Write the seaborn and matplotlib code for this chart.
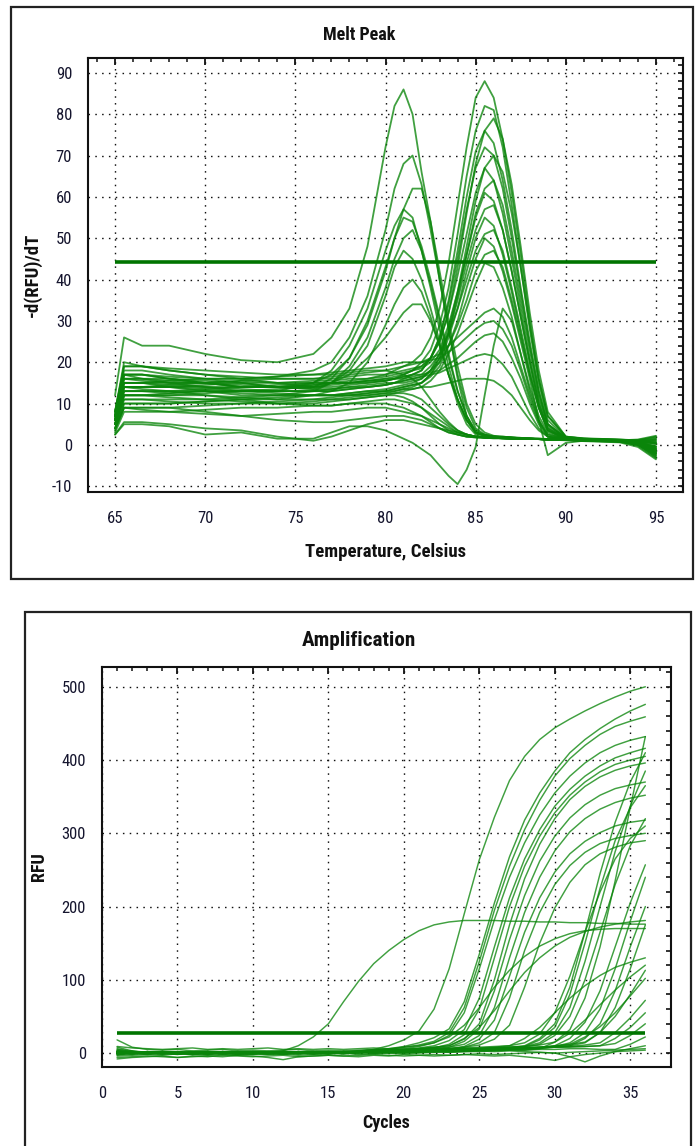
import numpy as np
import pandas as pd
import matplotlib
matplotlib.use("Agg")
import matplotlib.pyplot as plt
from matplotlib.ticker import MultipleLocator
from matplotlib.patches import Rectangle
import seaborn as sns

# ─────────────────────────────────────────────
# DATA
# ─────────────────────────────────────────────
MELT_THRESHOLD = 44.2
AMP_THRESHOLD = 28

melt_temps = [65, 65.5, 66.5, 68, 70, 72, 74, 76, 77, 78, 79, 80, 80.5, 81, 81.5, 82,
              82.5, 83, 83.5, 84, 84.5, 85, 85.5, 86, 86.5, 87, 87.5, 88, 88.5, 89,
              90, 91, 93, 94, 95]

# products melting near 81 C
melt_early = [
    [12, 26, 24, 24, 22, 20.5, 20, 22, 26, 33, 48, 72, 82, 86, 80, 66, 54, 40, 28, 16, 7, 3, 2.5, 2, 2, 1.8, 1.6, 1.5, 1.4, 1.3, 1.2, 1.0, 0.8, 0.2, -2.5],
    [8, 20, 19, 18, 17, 16, 16.5, 18, 20, 26, 36, 52, 62, 68, 70, 63, 52, 40, 28, 17, 9, 4, 2.5, 2, 1.8, 1.7, 1.6, 1.5, 1.5, 1.4, 1.3, 1.2, 1.0, 0.6, -1.0],
    [7, 17, 17, 16, 15, 14, 14, 15, 17, 21, 29, 42, 50, 57, 62, 62, 54, 42, 30, 19, 10, 5, 3, 2.2, 2, 1.8, 1.7, 1.6, 1.5, 1.4, 1.3, 1.1, 0.9, 0.4, -2.0],
    [6, 15, 15, 14.5, 14, 13, 13, 15, 18, 24, 33, 47, 53, 57, 55, 47, 38, 28, 19, 11, 6, 3, 2.2, 2, 1.9, 1.8, 1.6, 1.5, 1.4, 1.3, 1.4, 1.3, 1.1, 0.8, 0.5],
    [7, 16, 16, 15, 15, 15.5, 15, 14, 16, 21, 30, 43, 50, 55, 54, 48, 40, 31, 22, 13, 7, 3, 2.3, 2, 1.9, 1.7, 1.6, 1.5, 1.4, 1.3, 1.1, 0.9, 0.6, -0.5, -3.5],
    [5, 13, 13, 12.5, 13, 12, 12, 13, 15, 19, 26, 38, 45, 50, 52, 47, 39, 30, 21, 13, 7, 3.5, 2.4, 2, 1.8, 1.7, 1.6, 1.5, 1.4, 1.3, 1.2, 1.1, 1.0, 1.2, 1.8],
    [6, 14, 14, 14, 14.5, 15, 14, 13.5, 15, 18, 24, 36, 43, 47, 45, 40, 33, 25, 17, 10, 5, 2.5, 2, 1.8, 1.7, 1.6, 1.5, 1.5, 1.4, 1.3, 1.2, 1.0, 0.7, 0, -2.8],
    [5, 12, 12, 12, 12, 11.5, 11, 12, 13, 15, 20, 29, 34, 38, 40, 37, 31, 24, 17, 11, 6, 3, 2.2, 2, 1.8, 1.7, 1.6, 1.5, 1.4, 1.3, 1.2, 1.0, 0.9, 0.5, -1.5],
    [6, 15, 15, 15.5, 16, 15, 14, 14, 15, 17, 21, 26, 29, 32, 34, 34, 30, 24, 17, 11, 6, 3, 2.3, 2, 1.9, 1.8, 1.7, 1.6, 1.5, 1.4, 1.3, 1.2, 1.0, 0.7, 0.2],
]

# main product melting near 85.5 C
melt_main = [
    [7, 17, 17, 16, 15, 14, 14, 14.5, 15, 15.5, 16, 17, 18, 19, 20, 22, 26, 33, 44, 58, 72, 84, 88, 84, 74, 61, 46, 30, 16, 7, 2, 1.5, 1.2, 0.5, -1.0],
    [6, 14, 14, 14, 13, 13, 13.5, 14, 14, 14.5, 15, 15.5, 16, 17, 18, 20, 23, 29, 38, 51, 65, 76, 82, 81, 72, 58, 43, 28, 15, 6, 1.8, 1.4, 1.1, 0.3, -2.0],
    [8, 18, 18, 17, 16, 16, 15, 15, 15, 15, 15.5, 16, 16.5, 17, 18, 19, 21, 25, 32, 43, 56, 68, 76, 79, 74, 63, 48, 32, 18, 8, 2, 1.6, 1.3, 1.0, 1.5],
    [5, 12, 12, 12, 12.5, 13, 13, 13, 13, 13.5, 14, 14.5, 15, 16, 17, 18, 21, 26, 35, 47, 60, 71, 76, 73, 64, 52, 38, 25, 13, 5, 1.5, 1.2, 1.0, 0.2, -3.0],
    [7, 16, 16, 15.5, 15, 14, 14, 14, 14.5, 15, 15, 15.5, 16, 16.5, 17, 18, 21, 26, 34, 45, 57, 67, 72, 70, 62, 50, 37, 24, 13, 5, 1.7, 1.4, 1.2, 0.8, 0.3],
    [6, 13, 13, 13, 13, 12.5, 12, 12, 12, 12.5, 13, 13.5, 14, 14.5, 15, 16, 18, 22, 28, 37, 48, 59, 67, 70, 66, 56, 43, 29, 16, 7, 2, 1.5, 1.1, 0.4, -1.8],
    [8, 19, 19, 18, 17, 16.5, 16, 16, 16, 16.5, 17, 17, 17.5, 18, 18.5, 19, 21, 25, 32, 41, 51, 61, 67, 64, 56, 45, 33, 21, 11, 4.5, 1.6, 1.3, 1.0, 0.6, -0.5],
    [5, 11, 11, 11, 11, 11.5, 12, 12, 12, 12, 12.5, 13, 13.5, 14, 14.5, 15, 17, 21, 27, 36, 46, 56, 62, 64, 58, 47, 35, 23, 12, 5, 1.8, 1.5, 1.3, 1.1, 2.0],
    [7, 17, 16, 16, 15.5, 15, 15, 15.5, 15.5, 16, 16, 16.5, 17, 17.5, 18, 18.5, 20, 23, 29, 37, 46, 55, 61, 59, 52, 42, 31, 20, 10, 4, 1.5, 1.3, 1.0, 0, -2.2],
    [6, 14, 14, 14.5, 15, 14.5, 14, 13.5, 13.5, 14, 14, 14.5, 15, 15, 15.5, 16, 18, 21, 27, 35, 44, 52, 57, 58, 52, 42, 31, 20, 10, 4, 1.6, 1.3, 1.1, 0.7, -0.8],
    [4, 10, 10, 10, 10.5, 11, 11, 11, 11.5, 12, 12, 12.5, 13, 13.5, 14, 15, 17, 20, 26, 33, 42, 50, 55, 53, 46, 37, 27, 17, 9, 3.5, 1.5, 1.3, 1.2, 0.9, 0.8],
    [7, 16, 15.5, 15, 14, 14, 14.5, 15, 15, 15, 15.5, 15.5, 16, 16, 16.5, 17, 19, 22, 27, 33, 40, 47, 51, 52, 47, 38, 28, 18, 9, 3.5, 1.4, 1.2, 0.9, -0.2, -3.2],
    [5, 12, 12, 12.5, 13, 13, 12.5, 12, 12, 12.5, 13, 13, 13.5, 14, 14.5, 15, 16.5, 19, 24, 30, 38, 45, 50, 48, 42, 34, 25, 16, 6, -2.5, 0.5, 1.0, 0.9, 0.3, -1.2],
    [6, 15, 15, 14, 14, 13.5, 13, 13, 13.5, 14, 14.5, 15, 15, 15.5, 16, 16.5, 18, 20, 24, 29, 35, 42, 46, 47, 43, 35, 26, 17, 9, 3.5, 1.6, 1.4, 1.2, 1.0, 1.2],
    [4, 9, 9, 9, 9.5, 10, 10, 10.5, 11, 11, 11.5, 12, 12.5, 13, 13.5, 14, 15.5, 18, 22, 27, 33, 39, 44, 43, 38, 31, 22, 14, 7, 3, 1.5, 1.3, 1.1, 0.6, -0.6],
]

# weak peaks around 86 C (first one dips below zero)
melt_low = [
    [2.5, 5, 5, 4.5, 2.5, 3, 1.5, 1.5, 3, 4.5, 4.5, 3.5, 2.5, 1.5, 0.5, -1, -2.5, -5, -7.5, -9.5, -6, -0.5, 12, 24, 33, 30, 22, 13, 6, 2, 1.2, 1.0, 0.8, 0, -1.0],
    [6, 15, 15, 15, 15, 15.5, 16, 16, 16.5, 17, 17.5, 18, 18.5, 19, 19.5, 20, 21, 22, 24, 26, 28, 30, 32, 33, 31, 26, 19, 12, 6, 2.5, 1.5, 1.3, 1.1, 0.5, -1.5],
    [7, 17, 17, 16.5, 16, 16, 16.5, 17, 17.5, 18, 18.5, 19, 19.5, 20, 20, 20, 20.5, 21, 22.5, 24, 26, 28, 29.5, 30, 28, 24, 18, 11, 5.5, 2.5, 1.6, 1.4, 1.2, 1.0, 0.4],
    [5, 13, 13, 13, 13.5, 14, 14, 14.5, 15, 15, 15.5, 16, 16, 16.5, 17, 17, 17.5, 18, 19.5, 21, 23, 25, 26.5, 27, 25, 21, 16, 10, 5, 2, 1.4, 1.2, 1.0, 0.4, -2.0],
    [6, 14, 14, 14, 13.5, 13, 13, 13, 13, 13.5, 14, 14.5, 15, 15.5, 16, 16.5, 17, 17.5, 18.5, 19.5, 20.5, 21.5, 22, 21.5, 19.5, 16.5, 12, 7.5, 4, 2, 1.5, 1.3, 1.1, 0.7, -0.3],
    [4, 10, 10, 10, 10.5, 11, 11.5, 12, 12, 12, 12.5, 13, 13, 13.5, 13.5, 14, 14, 14.5, 15, 15.5, 16, 16, 16, 15.5, 14, 12, 9, 6, 3.5, 2, 1.4, 1.2, 1.0, 0.8, 1.0],
]

# no clear peak
melt_flat = [
    [3, 8, 8, 8, 8.5, 9, 9, 9.5, 9.5, 10, 10, 10, 9.5, 9, 8, 7, 5.5, 4, 3, 2.5, 2, 1.8, 1.7, 1.6, 1.6, 1.5, 1.5, 1.5, 1.4, 1.4, 1.3, 1.2, 1.0, 0.5, -1.2],
    [3.5, 9, 8.5, 8, 7.5, 7, 7.5, 8, 8, 8.5, 9, 9, 8.5, 8, 7.5, 7, 6, 5, 4, 3, 2.5, 2, 1.8, 1.7, 1.6, 1.5, 1.5, 1.4, 1.4, 1.3, 1.3, 1.2, 1.1, 0.9, 0.6],
    [2.5, 5.5, 5.5, 5, 4, 3.5, 2, 1, 2, 3.5, 5, 6, 6, 6, 5.5, 5, 4.5, 4, 3.5, 3, 2.5, 2, 1.8, 1.7, 1.6, 1.5, 1.5, 1.4, 1.4, 1.3, 1.2, 1.1, 0.9, 0.2, -2.5],
    [5, 12, 12, 11.5, 11, 10.5, 10, 10, 10.5, 11, 11.5, 12, 12, 11.5, 10.5, 9, 7, 5, 3.5, 2.5, 2, 1.8, 1.7, 1.6, 1.6, 1.5, 1.5, 1.4, 1.4, 1.3, 1.3, 1.2, 1.0, 0.6, -0.4],
    [4, 9, 9, 9, 8, 7, 6, 5.5, 5.5, 6, 6.5, 7, 7, 7, 6.5, 6, 5, 4, 3, 2.5, 2, 2, 1.8, 1.7, 1.6, 1.6, 1.5, 1.5, 1.4, 1.4, 1.3, 1.2, 1.1, 1.3, 2.2],
    [8, 19, 19, 18.5, 18, 17.5, 17, 17, 17, 17.5, 18, 18, 17.5, 17, 16, 14, 11, 8, 5.5, 3.5, 2.5, 2, 1.8, 1.7, 1.6, 1.5, 1.5, 1.4, 1.4, 1.3, 1.3, 1.2, 1.0, 0.4, -1.8],
    [5, 11, 11, 10.5, 10, 10, 10.5, 11, 11, 11.5, 12, 12.5, 12.5, 12.5, 12, 11, 9, 7, 5, 3.5, 2.5, 2, 1.8, 1.7, 1.6, 1.5, 1.5, 1.4, 1.4, 1.3, 1.2, 1.1, 0.9, 0.8, 1.4],
    [6, 14, 13.5, 13, 12, 11, 10, 9.5, 9.5, 10, 10.5, 11, 11, 10.5, 10, 9, 7.5, 6, 4.5, 3, 2.5, 2, 1.8, 1.7, 1.6, 1.5, 1.5, 1.4, 1.4, 1.3, 1.3, 1.2, 1.0, 0.2, -2.2],
]

cycles = list(range(1, 37))

# early sample, plateau ~180
amp_early = [
    [5, 2, 0, -1, 1, 0, -2, 1, 0, -1, 1, 3, 10, 22, 40, 70, 98, 122, 140, 155, 167, 175, 179, 181, 181, 181, 180, 180, 179, 179, 178, 178, 177, 177, 176, 176],
]

# Cq ~21-27, high plateaus
amp_mid = [
    [2, -1, 1, 0, -2, 1, 2, 0, -1, 1, 0, -2, 1, 0, 2, 1, 2, 5, 10, 18, 30, 60, 115, 190, 264, 322, 372, 405, 428, 444, 456, 467, 477, 486, 494, 500],
    [-3, 0, 2, 1, -1, 0, 1, -2, 0, 1, 2, 0, -1, 1, 0, 2, 3, 4, 6, 9, 14, 21, 33, 70, 135, 205, 268, 318, 355, 385, 410, 428, 443, 456, 467, 476],
    [1, 3, 0, -1, 2, 1, -1, 0, 2, 0, -1, 1, 0, 1, 2, 1, 3, 4, 5, 8, 11, 16, 28, 62, 125, 195, 255, 305, 345, 378, 402, 420, 435, 446, 453, 459],
    [0, -2, 1, 2, 0, -1, 1, 2, 0, -1, 1, 0, 2, 1, 0, 2, 2, 3, 5, 6, 9, 14, 24, 55, 115, 182, 240, 287, 325, 355, 378, 396, 410, 420, 427, 432],
    [8, 3, 1, 0, -1, 2, 0, 1, -1, 0, 2, 1, 0, -1, 1, 2, 1, 3, 4, 5, 7, 10, 17, 32, 75, 145, 212, 265, 305, 337, 360, 378, 392, 403, 410, 416],
    [-2, 1, 0, 2, 1, -1, 0, 1, 2, 0, -1, 0, 1, 2, 0, 1, 2, 2, 3, 4, 5, 7, 12, 25, 60, 130, 200, 255, 296, 328, 352, 370, 384, 394, 400, 405],
    [3, 0, 1, -1, 0, 2, 1, 0, -2, 1, 0, 2, 1, 0, 1, 2, 1, 2, 3, 4, 6, 8, 10, 19, 40, 100, 175, 238, 285, 320, 346, 364, 377, 386, 392, 396],
    [1, -1, 2, 0, 1, -2, 0, 1, 0, 2, 1, -1, 0, 2, 1, 0, 2, 3, 3, 5, 6, 7, 8, 16, 33, 85, 155, 215, 262, 296, 321, 339, 352, 361, 366, 370],
    [-1, 2, 0, 1, 0, -1, 2, 1, 0, -1, 1, 0, 2, 0, 1, 2, 1, 2, 3, 4, 5, 6, 8, 12, 24, 62, 130, 192, 240, 276, 302, 320, 333, 342, 348, 352],
    [2, 0, -1, 1, 2, 0, -1, 0, 1, 2, 0, 1, -1, 0, 2, 1, 1, 2, 2, 3, 4, 5, 6, 9, 19, 45, 105, 165, 212, 247, 272, 289, 301, 310, 315, 318],
    [0, 1, 2, 0, -1, 1, 0, 2, -1, 0, 1, 2, 0, 1, -1, 0, 2, 1, 2, 3, 3, 4, 6, 8, 14, 28, 75, 140, 192, 230, 256, 274, 286, 293, 297, 300],
    [6, 2, 0, 1, -1, 0, 2, 1, 0, -2, 0, 1, 2, 0, 1, -1, 1, 2, 2, 3, 4, 5, 6, 8, 11, 19, 38, 90, 150, 198, 233, 257, 272, 281, 287, 290],
]

# slow risers with low plateaus
amp_slow = [
    [1, 0, -1, 2, 0, 1, -1, 0, 2, 1, 0, -1, 1, 2, 0, 1, 3, 4, 6, 8, 10, 14, 22, 38, 62, 90, 113, 132, 146, 156, 163, 167, 169, 170, 170, 170],
    [-2, 0, 1, 0, 2, -1, 1, 0, 0, 2, 1, 0, -1, 1, 2, 0, 1, 2, 3, 4, 6, 8, 10, 20, 35, 58, 85, 110, 130, 146, 158, 166, 172, 176, 179, 181],
    [1, 2, 0, -1, 1, 0, 2, 1, -1, 0, 1, 0, 2, 1, 0, -1, 1, 2, 1, 3, 4, 5, 6, 7, 8, 9, 10, 20, 35, 55, 75, 92, 106, 117, 124, 130],
]

# late samples, Cq ~29-35
amp_late = [
    [0, 2, 1, -1, 0, 1, 2, 0, -1, 1, 0, 2, 1, -1, 0, 1, 2, 0, 1, 2, 1, 2, 3, 3, 4, 4, 5, 5, 6, 15, 32, 75, 145, 235, 335, 432],
    [3, 1, 0, 2, -1, 0, 1, 2, 0, 1, -1, 0, 2, 1, 0, 1, 2, 1, 2, 3, 3, 4, 5, 5, 6, 7, 8, 10, 20, 40, 90, 165, 245, 315, 370, 410],
    [-1, 0, 2, 1, 0, -2, 1, 0, 2, 1, 0, -1, 1, 2, 0, 1, 0, 2, 1, 2, 3, 2, 4, 4, 5, 6, 7, 9, 14, 28, 62, 125, 200, 275, 337, 385],
    [2, 0, 1, 2, 0, 1, -1, 0, 1, 2, 0, 1, -1, 0, 2, 1, 2, 1, 3, 2, 3, 4, 4, 5, 6, 7, 8, 9, 18, 35, 80, 150, 225, 290, 335, 365],
    [0, -1, 1, 0, 2, 1, 0, -1, 1, 0, 2, 1, 0, 1, -1, 2, 1, 0, 2, 3, 2, 3, 4, 5, 5, 6, 7, 8, 12, 24, 50, 100, 165, 230, 283, 320],
    [4, 1, 0, 1, -1, 2, 0, 1, 0, -1, 1, 2, 0, 1, 0, 2, 1, 2, 3, 3, 4, 4, 5, 6, 7, 8, 10, 14, 26, 55, 105, 165, 220, 265, 293, 310],
    [1, 0, -1, 2, 0, 1, 0, 2, -1, 0, 1, 0, 2, 1, 0, -1, 1, 2, 0, 1, 2, 3, 2, 3, 4, 4, 5, 6, 7, 10, 20, 42, 85, 145, 205, 257],
    [-4, -3, -2, -3, -1, -2, -3, -2, -3, -1, -2, -1, -3, -2, -1, 0, -2, -1, 0, -1, 0, 1, 1, 2, 2, 3, 4, 4, 6, 9, 14, 28, 60, 115, 180, 240],
    [0, 2, 1, 0, -1, 1, 0, 2, 1, 0, -1, 1, 0, 2, 1, 0, 1, 2, 1, 2, 2, 3, 3, 4, 5, 5, 6, 7, 8, 9, 10, 20, 40, 85, 145, 200],
    [2, 0, 1, -1, 0, 1, 2, 0, 1, -1, 0, 2, 1, 0, 1, 0, 2, 1, 1, 2, 3, 2, 3, 3, 4, 5, 5, 6, 7, 8, 10, 14, 28, 62, 115, 175],
    [1, -1, 0, 2, 1, 0, -1, 1, 0, 2, 1, 0, 1, -1, 0, 2, 1, 2, 1, 3, 3, 4, 4, 5, 6, 7, 8, 9, 11, 15, 27, 45, 66, 86, 104, 120],
    [0, 1, 2, 0, 1, -1, 0, 2, 1, 0, 1, -1, 0, 1, 2, 0, 1, 1, 2, 2, 3, 3, 4, 4, 5, 5, 6, 7, 8, 10, 12, 15, 28, 50, 80, 113],
    [3, 1, 0, -1, 1, 0, 2, 0, -1, 1, 0, 2, 1, 0, -1, 1, 2, 0, 2, 1, 3, 2, 3, 4, 4, 5, 6, 7, 8, 9, 12, 22, 36, 55, 78, 102],
    [-1, 0, 1, 2, 0, 1, -1, 0, 2, 1, 0, 1, 0, -1, 1, 2, 0, 1, 2, 2, 1, 3, 3, 4, 4, 5, 5, 6, 7, 8, 9, 11, 14, 28, 48, 72],
    [18, 8, 5, 4, 5, 3, 4, 5, 3, 4, 3, 4, 5, 3, 4, 3, 4, 5, 4, 4, 5, 5, 5, 6, 6, 6, 7, 7, 8, 8, 9, 9, 10, 20, 35, 55],
    [9, 7, 6, 5, 6, 7, 5, 6, 5, 6, 7, 5, 6, 5, 6, 5, 6, 7, 6, 5, 6, 6, 5, 6, 6, 7, 6, 7, 7, 8, 8, 9, 10, 13, 24, 40],
    [2, 1, 0, 1, -1, 0, 1, 0, 2, 1, 0, -1, 1, 0, 1, 2, 0, 1, 1, 2, 2, 2, 3, 3, 3, 4, 4, 4, 5, 5, 6, 6, 5, 5, 12, 22],
]

# no amplification
amp_flat = [
    [-6, -5, -4, -5, -6, -4, -5, -3, -4, -5, -4, -3, -5, -4, -3, -4, -3, -2, -3, -4, -3, -2, -3, -2, -1, -2, -1, 0, 1, 0, 1, 2, 3, 4, 5, 6],
    [1, 0, -2, 0, 1, -1, 0, 1, 2, 0, -1, 0, 1, 0, -1, 1, 2, 0, 1, 0, 1, 2, 1, 2, 3, 2, 3, 2, 1, 0, -5, -12, -4, 2, 6, 10],
    [-8, -6, -5, -4, -6, -5, -4, -5, -3, -4, -6, -9, -5, -4, -3, -4, -5, -3, -4, -2, -3, -4, -3, -2, -3, -4, -3, -5, -7, -10, -5, -2, 0, 2, 3, 4],
]

# ─────────────────────────────────────────────
# STYLE
# ─────────────────────────────────────────────
GREEN = "#0a850a"
THRESH = "#007400"
TXT = "#15152e"

sns.set_theme(style="white")
# narrow sans, like the instrument software
plt.rcParams["font.family"] = ["Roboto Condensed", "Liberation Sans Narrow", "DejaVu Sans"]
plt.rcParams["font.stretch"] = "condensed"
plt.rcParams["axes.unicode_minus"] = False


def to_long(xs, groups):
    rows = []
    k = 0
    for grp in groups:
        for ys in grp:
            assert len(ys) == len(xs), (k, len(ys))
            for x, y in zip(xs, ys):
                rows.append((k, x, y))
            k += 1
    return pd.DataFrame(rows, columns=["curve", "x", "y"])


melt_df = to_long(melt_temps, [melt_early, melt_main, melt_low, melt_flat])
amp_df = to_long(cycles, [amp_early, amp_mid, amp_slow, amp_late, amp_flat])

W, H = 696, 1146
fig = plt.figure(figsize=(W / 100, H / 100), dpi=100)
fig.patch.set_facecolor("white")

# outer frames around each chart
fig.add_artist(Rectangle((11 / W, 1 - 579 / H), 682 / W, 572 / H,
                         transform=fig.transFigure, fill=False, lw=1.6, ec="#222222"))
fig.add_artist(Rectangle((25 / W, 1 - 1152 / H), 666 / W, 540 / H,
                         transform=fig.transFigure, fill=False, lw=1.6, ec="#222222"))

ax1 = fig.add_axes([88 / W, 1 - 492 / H, 595 / W, 434 / H])
ax2 = fig.add_axes([102 / W, 1 - 1067 / H, 569 / W, 400 / H])

GRID_LS = (0, (1.1, 3.8))


def style_axes(ax, xmaj, xmin, ymaj, ymin):
    ax.set_facecolor("white")
    for s in ax.spines.values():
        s.set_color("#111111")
        s.set_linewidth(1.5)
    ax.xaxis.set_major_locator(MultipleLocator(xmaj))
    ax.xaxis.set_minor_locator(MultipleLocator(xmin))
    ax.yaxis.set_major_locator(MultipleLocator(ymaj))
    ax.yaxis.set_minor_locator(MultipleLocator(ymin))
    ax.tick_params(which="major", direction="inout", length=11, width=1.4,
                   colors="#111111", labelcolor=TXT, labelsize=12,
                   top=False, right=False)
    ax.tick_params(which="minor", direction="inout", length=6.5, width=1.2,
                   colors="#111111", top=False, right=False)
    ax.tick_params(axis="x", which="major", pad=8)
    ax.tick_params(axis="y", which="major", pad=6)
    ax.grid(True, which="major", color="#111111", linestyle=GRID_LS, lw=1.0)
    ax.grid(False, which="minor")
    # inward ticks on the top and right edges
    sx = ax.secondary_xaxis("top")
    sx.xaxis.set_major_locator(MultipleLocator(xmaj))
    sx.xaxis.set_minor_locator(MultipleLocator(xmin))
    sx.tick_params(which="major", direction="in", length=5, width=1.3, colors="#111111",
                   labeltop=False, labelbottom=False)
    sx.tick_params(which="minor", direction="in", length=3, width=1.1, colors="#111111")
    sy = ax.secondary_yaxis("right")
    sy.yaxis.set_major_locator(MultipleLocator(ymaj))
    sy.yaxis.set_minor_locator(MultipleLocator(ymin))
    sy.tick_params(which="both", direction="in", length=3.5, width=1.2, colors="#111111",
                   labelright=False, labelleft=False)


# ── Melt peak ────────────────────────────────
sns.lineplot(data=melt_df, x="x", y="y", units="curve", estimator=None, sort=False,
             color=GREEN, lw=1.3, alpha=0.78, legend=False, ax=ax1, zorder=2)
ax1.hlines(MELT_THRESHOLD, melt_temps[0], melt_temps[-1], color=THRESH, lw=2.6, zorder=3)
ax1.set_xlim(63.5, 96.5)
ax1.set_ylim(-11.4, 93.6)
style_axes(ax1, 5, 1, 10, 2)
ax1.set_xlabel("Temperature, Celsius", fontsize=13.5, fontweight="bold", color="#111111")
ax1.set_ylabel("-d(RFU)/dT", fontsize=13.5, fontweight="bold", color="#111111")
ax1.xaxis.label.set_va("center")
ax1.yaxis.label.set_va("center")
ax1.xaxis.set_label_coords(0.5, -(552 - 492) / 434)
ax1.yaxis.set_label_coords((32 - 88) / 595, 0.5)

# ── Amplification ────────────────────────────
sns.lineplot(data=amp_df, x="x", y="y", units="curve", estimator=None, sort=False,
             color=GREEN, lw=1.05, alpha=0.78, legend=False, ax=ax2, zorder=2)
ax2.hlines(AMP_THRESHOLD, cycles[0], cycles[-1], color=THRESH, lw=2.6, zorder=3)
ax2.set_xlim(0, 37.7)
ax2.set_ylim(-19, 527)
style_axes(ax2, 5, 1, 100, 20)
ax2.set_xlabel("Cycles", fontsize=13, fontweight="bold", color="#111111")
ax2.set_ylabel("RFU", fontsize=13, fontweight="bold", color="#111111")
ax2.xaxis.label.set_va("center")
ax2.yaxis.label.set_va("center")
ax2.xaxis.set_label_coords(0.5, -(1123 - 1067) / 400)
ax2.yaxis.set_label_coords((39 - 102) / 569, 0.5)

fig.text(359 / W, 1 - 35 / H, "Melt Peak", ha="center", va="center",
         fontsize=13, fontweight="bold", color="#111111")
fig.text(359 / W, 1 - 640 / H, "Amplification", ha="center", va="center",
         fontsize=15.2, fontweight="bold", color="#111111")

fig.savefig("out.png", dpi=100, facecolor="white")
